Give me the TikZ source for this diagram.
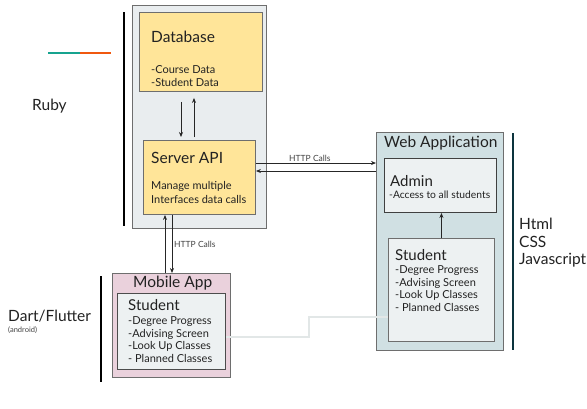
\documentclass[tikz,border=0pt]{standalone}
\usepackage{fontspec}
\setmainfont{Lato}
\usetikzlibrary{arrows.meta}
\definecolor{txt}{HTML}{222222}
\definecolor{rubyfill}{HTML}{E9EDEF}
\definecolor{ylw}{HTML}{FFE599}
\definecolor{webfill}{HTML}{D0E0E3}
\definecolor{inner}{HTML}{EDF1F2}
\definecolor{pink}{HTML}{EAD1DC}
\definecolor{teal}{HTML}{16A38F}
\definecolor{orng}{HTML}{F0580F}
\definecolor{darkcyan}{HTML}{0C343D}
\definecolor{bord}{HTML}{6E6E6E}
\definecolor{connc}{HTML}{E2E7E7}
\tikzset{
  box/.style={draw=bord, line width=0.9pt, inner sep=0pt, anchor=north west},
  darkbox/.style={draw=black!75, line width=1pt, inner sep=0pt, anchor=north west},
  arr/.style={draw=black!85, line width=0.7pt, -{Stealth[length=5pt,width=4pt]}},
  ttl/.style={anchor=base west, inner sep=0pt, text=txt, font=\fontsize{15.5}{18}\selectfont},
  sub/.style={anchor=base west, inner sep=0pt, text=txt, font=\fontsize{11}{13}\selectfont},
  tiny/.style={anchor=base west, inner sep=0pt, text=txt!85, font=\fontsize{8.5}{10}\selectfont},
  conn/.style={draw=connc, line width=2pt},
}
\begin{document}
\begin{tikzpicture}[x=1pt,y=-1pt]
\useasboundingbox (0,0) rectangle (587,408);
% Ruby group
\node[box, fill=rubyfill, minimum width=134pt, minimum height=223pt] (ruby) at (132,5) {};
\node[box, fill=ylw, minimum width=123pt, minimum height=79pt] (db) at (139,12) {};
\node[box, fill=ylw, minimum width=112pt, minimum height=74pt] (api) at (143,140) {};
\node[ttl] (dbt) at (151,42) {Database};
\node[sub] (dbl1) at (151,73) {-Course Data};
\node[sub] (dbl2) at (151,86) {-Student Data};
\node[ttl] (apit) at (151,163) {Server API};
\node[sub] (apil1) at (151,189) {Manage multiple};
\node[sub] (apil2) at (151,203) {Interfaces data calls};
\coordinate (xa) at (181,0);
\coordinate (xb) at (194,0);
\draw[arr, shorten <=10pt, shorten >=3pt] (xa |- db.south) -- (xa |- api.north);
\draw[arr, shorten <=3pt, shorten >=6pt] (xb |- api.north) -- (xb |- db.south);
\draw[black, line width=2.2pt] (124,12) coordinate (rl1) -- (124,226) coordinate (rl2);
\node[ttl] (ruby label) at (32,110) {Ruby};
\draw[teal, line width=2.6pt] (48,53) coordinate (t1) -- (80,53) coordinate (t2);
\draw[orng, line width=2.6pt] (t2) -- (111,53) coordinate (t3);
% Web application
\node[box, fill=webfill, minimum width=127pt, minimum height=218pt] (web) at (376,132) {};
\node[darkbox, fill=inner, minimum width=112pt, minimum height=54pt] (adm) at (384,158) {};
\node[box, fill=inner, minimum width=106pt, minimum height=103pt] (wstu) at (388,238) {};
\node[ttl] (webt) at (384,147) {Web Application};
\node[ttl, font=\fontsize{15}{18}\selectfont] (admt) at (390,186) {Admin};
\node[sub, font=\fontsize{10.3}{12}\selectfont] (adml) at (389,198) {-Access to all students};
\node[ttl, font=\fontsize{15}{18}\selectfont] (wst) at (395,260) {Student};
\node[sub] (ws1) at (395,273) {-Degree Progress};
\node[sub] (ws2) at (395,286) {-Advising Screen};
\node[sub] (ws3) at (395,298) {-Look Up Classes};
\node[sub] (ws4) at (395,311) {- Planned Classes};
\draw[arr] (wstu.north) -- (wstu.north |- adm.south);
\draw[darkcyan, line width=2.4pt] (513,133) coordinate (wl1) -- (513,350) coordinate (wl2);
\node[ttl] (h1) at (519,229) {Html};
\node[ttl] (h2) at (519,247) {CSS};
\node[ttl] (h3) at (519,264) {Javascript};
% HTTP calls between API and web
\coordinate (y1) at (0,163);
\coordinate (y2) at (0,171);
\draw[arr] (api.east |- y1) -- (web.west |- y1);
\draw[arr] (web.west |- y2) -- (api.east |- y2);
\node[tiny] (http1) at (289,161) {HTTP Calls};
% Mobile app
\node[box, fill=pink, minimum width=118pt, minimum height=104pt] (mob) at (112,273) {};
\node[darkbox, draw=black!70, line width=0.9pt, fill=inner, minimum width=108pt, minimum height=76pt] (mstu) at (117,293) {};
\node[ttl] (mobt) at (133,287) {Mobile App};
\node[ttl, font=\fontsize{15}{18}\selectfont] (mst) at (128,310) {Student};
\node[sub] (ms1) at (128,324) {-Degree Progress};
\node[sub] (ms2) at (128,337) {-Advising Screen};
\node[sub] (ms3) at (128,349) {-Look Up Classes};
\node[sub] (ms4) at (128,362) {- Planned Classes};
\coordinate (xc) at (165,0);
\coordinate (xd) at (172,0);
\draw[arr] (xc |- mob.north) -- (xc |- api.south);
\draw[arr] (xd |- api.south) -- (xd |- mob.north);
\node[tiny] (http2) at (174,247) {HTTP Calls};
\draw[black, line width=2.2pt] (101,276) coordinate (dl1) -- (101,382) coordinate (dl2);
\node[ttl] (dart) at (8,321) {Dart/Flutter};
\node[tiny, font=\fontsize{7.5}{9}\selectfont] (andr) at (8,332) {(android)};
% connector between students
\coordinate (c0) at (0,337);
\coordinate (c1) at (309,337);
\coordinate (c2) at (309,317);
\draw[conn] (mstu.east |- c0) -- (c1) -- (c2) -- (wstu.west |- c2);
\end{tikzpicture}
\end{document}
